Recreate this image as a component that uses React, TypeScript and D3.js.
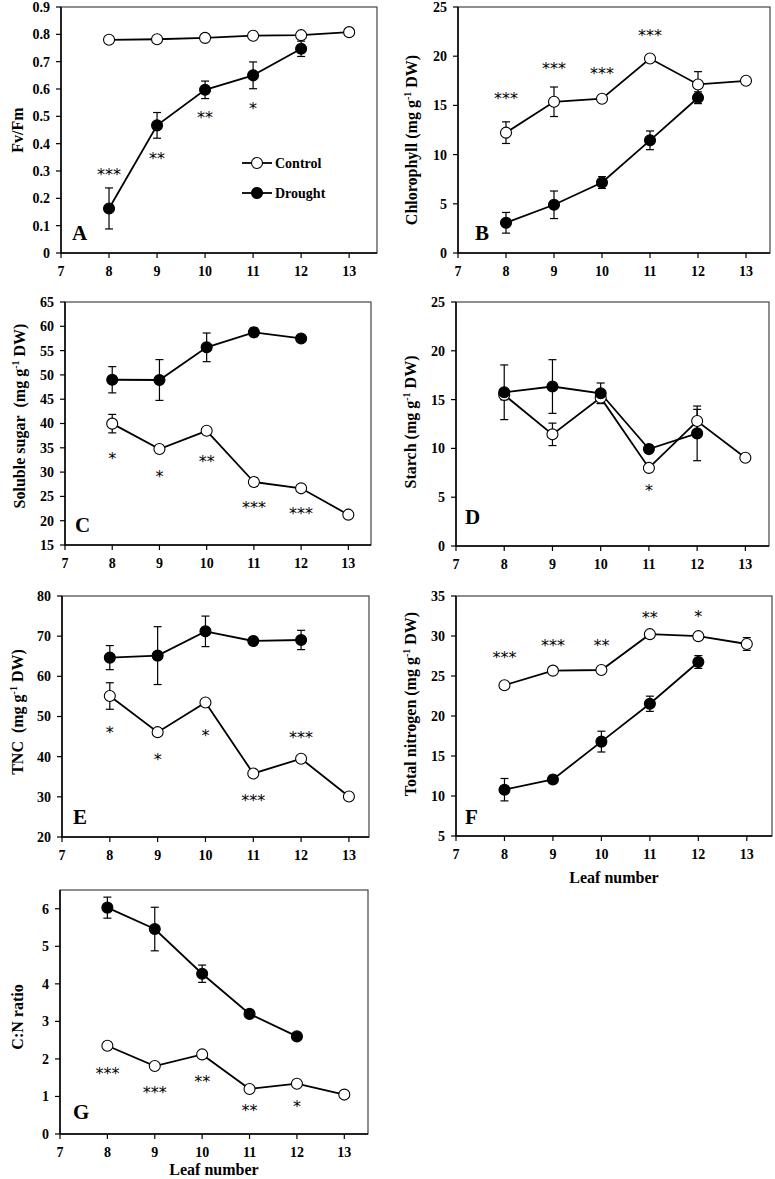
import React from 'react';
import * as d3 from 'd3';

const leafTicks = [7, 8, 9, 10, 11, 12, 13];
const controlLeaves = [8, 9, 10, 11, 12, 13];
const droughtLeaves = [8, 9, 10, 11, 12];

// A: Fv/Fm
const fvfmControl = [0.78, 0.782, 0.787, 0.795, 0.797, 0.808];
const fvfmControlErr = [0, 0, 0, 0, 0, 0];
const fvfmDrought = [0.163, 0.467, 0.597, 0.65, 0.747];
const fvfmDroughtErr = [0.075, 0.047, 0.032, 0.049, 0.028];
const fvfmStarLeaves = [8, 9, 10, 11];
const fvfmStarLabels = ['***', '**', '**', '*'];
const fvfmStarY = [0.3, 0.36, 0.51, 0.54];

// B: Chlorophyll
const chlControl = [12.23, 15.37, 15.68, 19.76, 17.13, 17.5];
const chlControlErr = [1.1, 1.5, 0.3, 0.3, 1.3, 0.3];
const chlDrought = [3.07, 4.9, 7.16, 11.45, 15.78];
const chlDroughtErr = [1.05, 1.4, 0.6, 0.95, 0.6];
const chlStarLeaves = [8, 9, 10, 11];
const chlStarLabels = ['***', '***', '***', '***'];
const chlStarY = [16.05, 19.15, 18.55, 22.5];

// C: Soluble sugar
const sugarControl = [39.97, 34.75, 38.5, 27.96, 26.66, 21.24];
const sugarControlErr = [1.9, 0.5, 0.5, 0.9, 0.5, 0.5];
const sugarDrought = [49.0, 48.95, 55.67, 58.76, 57.5];
const sugarDroughtErr = [2.7, 4.2, 2.95, 0.9, 0.5];
const sugarStarLeaves = [8, 9, 10, 11, 12];
const sugarStarLabels = ['*', '*', '**', '***', '***'];
const sugarStarY = [33.45, 29.8, 33.0, 23.5, 22.3];

// D: Starch
const starchControl = [15.48, 11.44, 15.2, 8.0, 12.8, 9.04];
const starchControlErr = [0.5, 1.15, 0.6, 0.3, 1.2, 0.3];
const starchDrought = [15.75, 16.34, 15.65, 9.93, 11.54];
const starchDroughtErr = [2.8, 2.75, 1.05, 0.4, 2.8];
const starchStarLeaves = [11];
const starchStarLabels = ['*'];
const starchStarY = [6.0];

// E: TNC
const tncControl = [55.1, 46.1, 53.5, 35.8, 39.5, 30.1];
const tncControlErr = [3.3, 0.5, 0.5, 0.5, 0.5, 0.5];
const tncDrought = [64.66, 65.16, 71.2, 68.8, 69.05];
const tncDroughtErr = [3.0, 7.2, 3.8, 0.9, 2.4];
const tncStarLeaves = [8, 9, 10, 11, 12];
const tncStarLabels = ['*', '*', '*', '***', '***'];
const tncStarY = [46.8, 40.2, 46.2, 30.0, 45.75];

// F: Total nitrogen
const nControl = [23.85, 25.67, 25.75, 30.23, 29.98, 29.0];
const nControlErr = [0.3, 0.3, 0.3, 0.3, 0.3, 0.8];
const nDrought = [10.79, 12.07, 16.8, 21.53, 26.75];
const nDroughtErr = [1.4, 0.5, 1.3, 0.95, 0.8];
const nStarLeaves = [8, 9, 10, 11, 12];
const nStarLabels = ['***', '***', '**', '**', '*'];
const nStarY = [27.74, 29.3, 29.3, 32.7, 32.9];

// G: C:N ratio
const cnControl = [2.35, 1.81, 2.12, 1.2, 1.34, 1.05];
const cnControlErr = [0.1, 0.05, 0.05, 0.05, 0.05, 0.05];
const cnDrought = [6.03, 5.46, 4.27, 3.2, 2.6];
const cnDroughtErr = [0.28, 0.58, 0.23, 0.08, 0.08];
const cnStarLeaves = [8, 9, 10, 11, 12];
const cnStarLabels = ['***', '***', '**', '**', '*'];
const cnStarY = [1.7, 1.21, 1.5, 0.73, 0.82];

const fvfmTicks = [0, 0.1, 0.2, 0.3, 0.4, 0.5, 0.6, 0.7, 0.8, 0.9];
const chlTicks = [0, 5, 10, 15, 20, 25];
const sugarTicks = [15, 20, 25, 30, 35, 40, 45, 50, 55, 60, 65];
const starchTicks = [0, 5, 10, 15, 20, 25];
const tncTicks = [20, 30, 40, 50, 60, 70, 80];
const nTicks = [5, 10, 15, 20, 25, 30, 35];
const cnTicks = [0, 1, 2, 3, 4, 5, 6];

const SERIF = '"Liberation Serif", "Times New Roman", serif';
const STAR_FONT = '"DejaVu Sans", sans-serif';

type PanelCfg = {
  left: number; right: number; top: number; bottom: number;
  xMax: number; yDomain: [number, number]; yTicks: number[];
  yLabel: React.ReactNode; yLabelX: number; yLabelY: number;
  letter: string; letterX: number; letterY: number;
  control: number[]; controlErr: number[];
  drought: number[]; droughtErr: number[];
  starLeaves: number[]; starLabels: string[]; starY: number[];
  leafLabelDy?: number; legend?: boolean;
};

const unit = (name: string, gap = ' ') => (
  <>
    {name}{gap}(mg g<tspan dy={-6} fontSize={10}>-1</tspan><tspan dy={6}> DW)</tspan>
  </>
);

const panels: PanelCfg[] = [
  {
    left: 61, right: 377, top: 7, bottom: 253, xMax: 13.58, yDomain: [0, 0.9], yTicks: fvfmTicks,
    yLabel: 'Fv/Fm', yLabelX: 17, yLabelY: 130, letter: 'A', letterX: 72, letterY: 240,
    control: fvfmControl, controlErr: fvfmControlErr, drought: fvfmDrought, droughtErr: fvfmDroughtErr,
    starLeaves: fvfmStarLeaves, starLabels: fvfmStarLabels, starY: fvfmStarY, legend: true,
  },
  {
    left: 458, right: 770, top: 7, bottom: 253, xMax: 13.5, yDomain: [0, 25], yTicks: chlTicks,
    yLabel: unit('Chlorophyll'), yLabelX: 411, yLabelY: 140, letter: 'B', letterX: 475, letterY: 240,
    control: chlControl, controlErr: chlControlErr, drought: chlDrought, droughtErr: chlDroughtErr,
    starLeaves: chlStarLeaves, starLabels: chlStarLabels, starY: chlStarY,
  },
  {
    left: 65, right: 371, top: 302, bottom: 545, xMax: 13.48, yDomain: [15, 65], yTicks: sugarTicks,
    yLabel: unit('Soluble sugar', '\u00a0\u00a0'), yLabelX: 19, yLabelY: 416, letter: 'C', letterX: 75, letterY: 532,
    control: sugarControl, controlErr: sugarControlErr, drought: sugarDrought, droughtErr: sugarDroughtErr,
    starLeaves: sugarStarLeaves, starLabels: sugarStarLabels, starY: sugarStarY,
  },
  {
    left: 456, right: 769, top: 302, bottom: 546, xMax: 13.49, yDomain: [0, 25], yTicks: starchTicks,
    yLabel: unit('Starch'), yLabelX: 410, yLabelY: 422, letter: 'D', letterX: 465, letterY: 524,
    control: starchControl, controlErr: starchControlErr, drought: starchDrought, droughtErr: starchDroughtErr,
    starLeaves: starchStarLeaves, starLabels: starchStarLabels, starY: starchStarY,
  },
  {
    left: 62, right: 369, top: 596, bottom: 837, xMax: 13.42, yDomain: [20, 80], yTicks: tncTicks,
    yLabel: unit('TNC', '\u00a0\u00a0'), yLabelX: 17, yLabelY: 712, letter: 'E', letterX: 73, letterY: 824,
    control: tncControl, controlErr: tncControlErr, drought: tncDrought, droughtErr: tncDroughtErr,
    starLeaves: tncStarLeaves, starLabels: tncStarLabels, starY: tncStarY,
  },
  {
    left: 456, right: 772, top: 596, bottom: 836, xMax: 13.52, yDomain: [5, 35], yTicks: nTicks,
    yLabel: unit('Total nitrogen'), yLabelX: 410, yLabelY: 704, letter: 'F', letterX: 465, letterY: 824,
    control: nControl, controlErr: nControlErr, drought: nDrought, droughtErr: nDroughtErr,
    starLeaves: nStarLeaves, starLabels: nStarLabels, starY: nStarY, leafLabelDy: 41,
  },
  {
    left: 60, right: 368, top: 890, bottom: 1134, xMax: 13.5, yDomain: [0, 6.5], yTicks: cnTicks,
    yLabel: 'C:N ratio', yLabelX: 17, yLabelY: 1017, letter: 'G', letterX: 73, letterY: 1119,
    control: cnControl, controlErr: cnControlErr, drought: cnDrought, droughtErr: cnDroughtErr,
    starLeaves: cnStarLeaves, starLabels: cnStarLabels, starY: cnStarY, leafLabelDy: 35,
  },
];

const fmtY = (v: number) => String(+v.toFixed(1));

function Panel({ p }: { p: PanelCfg }) {
  const x = d3.scaleLinear().domain([7, p.xMax]).range([p.left, p.right]);
  const y = d3.scaleLinear().domain(p.yDomain).range([p.bottom, p.top]);
  const line = d3.line<[number, number]>().x(d => x(d[0])).y(d => y(d[1]));
  const ctrlPts: [number, number][] = controlLeaves.map((l, i) => [l, p.control[i]]);
  const drPts: [number, number][] = droughtLeaves.map((l, i) => [l, p.drought[i]]);
  const cap = 4;
  const errBars = (leaves: number[], vals: number[], errs: number[], key: string) =>
    leaves.map((l, i) => {
      const e = errs[i];
      if (!e) return null;
      const cx = x(l), y1 = y(vals[i] + e), y2 = y(vals[i] - e);
      return (
        <g key={key + i} stroke="#000" strokeWidth={1.2}>
          <line x1={cx} x2={cx} y1={y1} y2={y2} />
          <line x1={cx - cap} x2={cx + cap} y1={y1} y2={y1} />
          <line x1={cx - cap} x2={cx + cap} y1={y2} y2={y2} />
        </g>
      );
    });
  return (
    <g>
      <rect x={p.left} y={p.top} width={p.right - p.left} height={p.bottom - p.top}
        fill="none" stroke="#444" strokeWidth={1.2} />
      <line x1={p.left} x2={p.left} y1={p.top} y2={p.bottom} stroke="#000" strokeWidth={1.5} />
      <line x1={p.left} x2={p.right} y1={p.bottom} y2={p.bottom} stroke="#000" strokeWidth={1.5} />
      {p.yTicks.map(t => (
        <g key={'y' + t}>
          <line x1={p.left - 5} x2={p.left} y1={y(t)} y2={y(t)} stroke="#000" strokeWidth={1.2} />
          <text x={p.left - 11} y={y(t)} dy="0.35em" textAnchor="end" fontFamily={SERIF}
            fontWeight="bold" fontSize={14} fill="#000">{fmtY(t)}</text>
        </g>
      ))}
      {leafTicks.map(t => (
        <g key={'x' + t}>
          <line x1={x(t)} x2={x(t)} y1={p.bottom} y2={p.bottom + 5} stroke="#000" strokeWidth={1.2} />
          <text x={x(t)} y={p.bottom + 18} dy="0.35em" textAnchor="middle" fontFamily={SERIF}
            fontWeight="bold" fontSize={14} fill="#000">{t}</text>
        </g>
      ))}
      <text transform={`translate(${p.yLabelX},${p.yLabelY}) rotate(-90)`} dy="0.35em" textAnchor="middle"
        fontFamily={SERIF} fontWeight="bold" fontSize={16} fill="#000">{p.yLabel}</text>
      {p.leafLabelDy !== undefined && (
        <text x={(p.left + p.right) / 2} y={p.bottom + p.leafLabelDy} dy="0.35em" textAnchor="middle"
          fontFamily={SERIF} fontWeight="bold" fontSize={16} fill="#000">Leaf number</text>
      )}
      <text x={p.letterX} y={p.letterY} fontFamily={SERIF} fontWeight="bold" fontSize={21} fill="#000">{p.letter}</text>
      <path d={line(ctrlPts) || ''} fill="none" stroke="#000" strokeWidth={1.8} />
      <path d={line(drPts) || ''} fill="none" stroke="#000" strokeWidth={1.8} />
      {errBars(controlLeaves, p.control, p.controlErr, 'ce')}
      {errBars(droughtLeaves, p.drought, p.droughtErr, 'de')}
      {ctrlPts.map((d, i) => (
        <circle key={'c' + i} cx={x(d[0])} cy={y(d[1])} r={5.5} fill="#fff" stroke="#000" strokeWidth={1.1} />
      ))}
      {drPts.map((d, i) => (
        <circle key={'d' + i} cx={x(d[0])} cy={y(d[1])} r={5.5} fill="#000" stroke="#000" strokeWidth={1.1} />
      ))}
      {p.starLeaves.map((l, i) => (
        <text key={'s' + i} x={x(l)} y={y(p.starY[i]) + 9} textAnchor="middle" fontFamily={STAR_FONT}
          fontSize={16} fill="#000">{p.starLabels[i]}</text>
      ))}
      {p.legend && (
        <g>
          {[{ label: 'Control', fill: '#fff', yy: 163 }, { label: 'Drought', fill: '#000', yy: 193 }].map(l => (
            <g key={l.label}>
              <line x1={242} x2={272} y1={l.yy} y2={l.yy} stroke="#000" strokeWidth={1.8} />
              <circle cx={257} cy={l.yy} r={5.5} fill={l.fill} stroke="#000" strokeWidth={1.1} />
              <text x={275} y={l.yy} dy="0.35em" fontFamily={SERIF} fontWeight="bold" fontSize={14} fill="#000">{l.label}</text>
            </g>
          ))}
        </g>
      )}
    </g>
  );
}

export default function App() {
  return (
    <svg width={775} height={1179} style={{ position: 'absolute', left: 0, top: 0, background: '#fff' }}>
      <rect x={0} y={0} width={775} height={1179} fill="#fff" />
      {panels.map(p => <Panel key={p.letter} p={p} />)}
    </svg>
  );
}
